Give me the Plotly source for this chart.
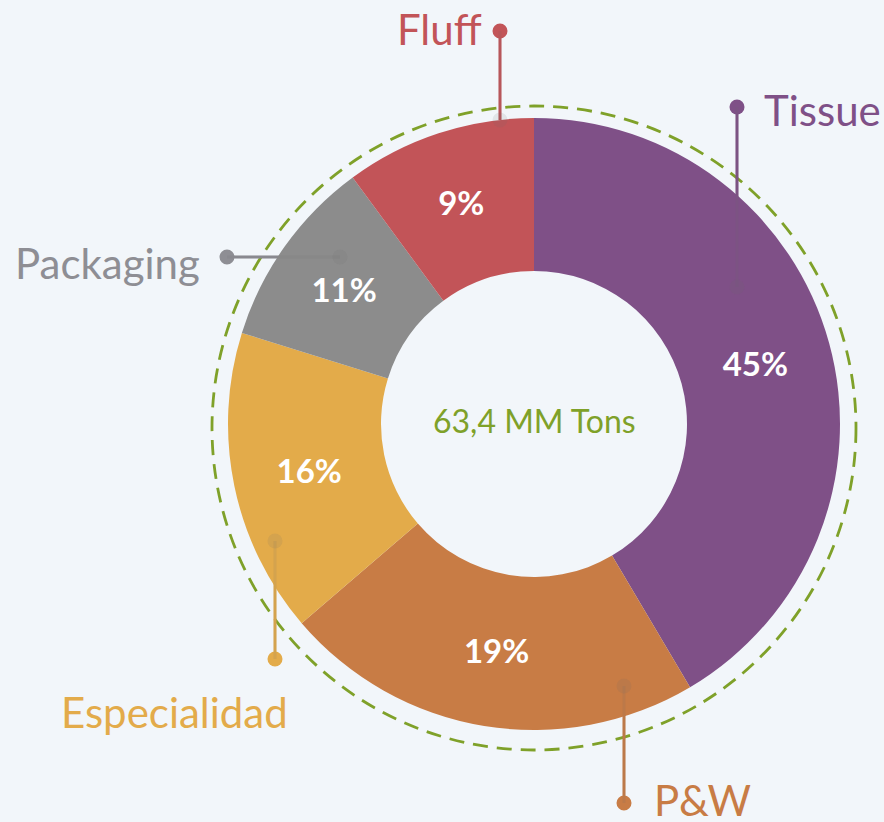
import plotly.graph_objects as go

# Datos (MM Tons) - total 63,4
categorias = ['Tissue', 'P&W', 'Especialidad', 'Packaging', 'Fluff']
valores = [26.3, 14.1, 10.2, 6.4, 6.4]
etiquetas_pct = ['45%', '19%', '16%', '11%', '9%']
colores = ['#7F5087', '#C87C45', '#E3AB4A', '#8C8C8C', '#C25458']
colores_texto = ['#7F5087', '#C87C45', '#E3AB4A', '#8E8E94', '#C25458']
total_txt = '63,4 MM Tons'

W, H = 884, 822
BG = '#F2F6FA'
VERDE = '#7FA129'

# posiciones de las etiquetas externas (px): punto externo, punto interno, texto
guias = {
    'Tissue':       dict(p0=(737, 107), p1=(737, 287), txt=(762, 110), anchor='left'),
    'P&W':          dict(p0=(624, 803), p1=(624, 686), txt=(652, 800), anchor='left'),
    'Especialidad': dict(p0=(275, 659), p1=(275, 541), txt=(290, 712), anchor='right'),
    'Packaging':    dict(p0=(227, 257), p1=(340, 257), txt=(202, 263), anchor='right'),
    'Fluff':        dict(p0=(500, 31), p1=(500, 120), txt=(484, 29), anchor='right'),
}

fig = go.Figure()

fig.add_trace(go.Pie(
    labels=categorias, values=valores, text=etiquetas_pct,
    textinfo='text', hoverinfo='label+value',
    sort=False, direction='clockwise', rotation=0, hole=0.5,
    marker=dict(colors=colores, line=dict(width=0)),
    textposition='inside', insidetextorientation='horizontal',
    textfont=dict(family='Lato', size=33, color='white', weight='bold'),
    showlegend=False,
    domain=dict(x=[228 / W, 840 / W], y=[1 - 730 / H, 1 - 118 / H]),
))

shapes = []
annotations = []

# circulo punteado
shapes.append(dict(type='circle', xref='x', yref='y', x0=534 - 322, x1=534 + 322,
                   y0=428 - 322, y1=428 + 322, line=dict(color=VERDE, width=2.8, dash='15px,9px'),
                   layer='below'))

for cat, col in zip(categorias, colores_texto):
    g = guias[cat]
    (x0, y0), (x1, y1) = g['p0'], g['p1']
    shapes.append(dict(type='line', xref='x', yref='y', x0=x0, y0=y0, x1=x1, y1=y1,
                       line=dict(color=col, width=3), layer='below'))
    r = 7.5
    shapes.append(dict(type='circle', xref='x', yref='y', x0=x0 - r, x1=x0 + r, y0=y0 - r, y1=y0 + r,
                       fillcolor=col, line=dict(width=0), layer='below'))
    # parte tenue sobre la porcion
    shapes.append(dict(type='line', xref='x', yref='y', x0=x0, y0=y0, x1=x1, y1=y1,
                       line=dict(color='rgba(110,110,110,0.12)', width=3), layer='above'))
    shapes.append(dict(type='circle', xref='x', yref='y', x0=x1 - r, x1=x1 + r, y0=y1 - r, y1=y1 + r,
                       fillcolor='rgba(110,110,110,0.12)', line=dict(width=0), layer='above'))
    tx, ty = g['txt']
    annotations.append(dict(x=tx, y=ty, xref='x', yref='y', text=cat, showarrow=False,
                            xanchor=g['anchor'], yanchor='middle',
                            font=dict(family='Lato', size=42, color=col)))

annotations.append(dict(x=534, y=420, xref='x', yref='y', text=total_txt, showarrow=False,
                        xanchor='center', yanchor='middle',
                        font=dict(family='Lato', size=32, color=VERDE)))

fig.update_layout(
    width=W, height=H, margin=dict(l=0, r=0, t=0, b=0),
    paper_bgcolor=BG, plot_bgcolor=BG,
    xaxis=dict(range=[0, W], visible=False, fixedrange=True, domain=[0, 1]),
    yaxis=dict(range=[H, 0], visible=False, fixedrange=True, domain=[0, 1]),
    shapes=shapes, annotations=annotations,
)

# sin margen del body para que la figura ocupe la ventana completa
fig.write_html('out.html', config={'displayModeBar': False},
               post_script="document.body.style.margin='0';document.body.style.overflow='hidden';")
